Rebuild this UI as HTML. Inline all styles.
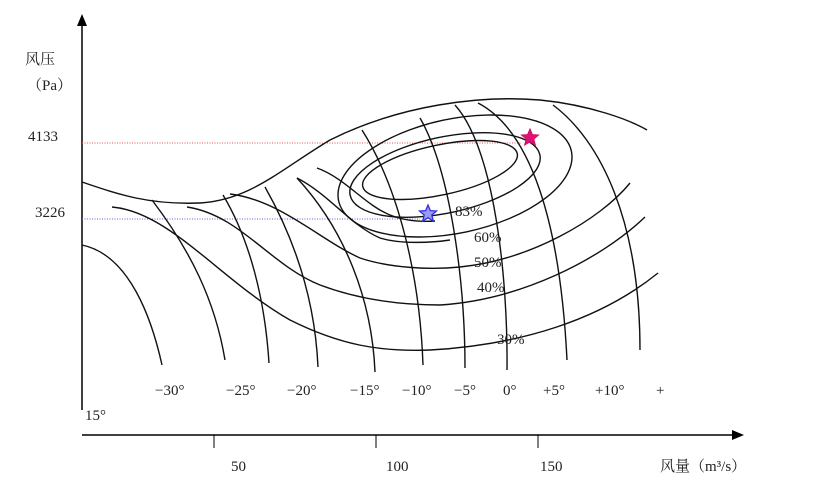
<!DOCTYPE html>
<html><head><meta charset="utf-8"><style>
html,body{margin:0;padding:0;background:#fff;}
svg{display:block;}
text{font-family:"Liberation Serif","Noto Serif CJK SC",serif;font-size:15px;fill:#222;}
</style></head><body>
<svg width="816" height="485" viewBox="0 0 816 485" xmlns="http://www.w3.org/2000/svg">
<rect width="816" height="485" fill="#fff"/>
<line x1="82" y1="410" x2="82" y2="24" stroke="#000" stroke-width="1.5"/>
<polygon points="82,14 77,26 87,26" fill="#000"/>
<line x1="82" y1="435" x2="734" y2="435" stroke="#000" stroke-width="1.5"/>
<polygon points="744,435 732,430 732,440" fill="#000"/>
<line x1="214" y1="435" x2="214" y2="448" stroke="#000"/>
<line x1="376" y1="435" x2="376" y2="448" stroke="#000"/>
<line x1="538" y1="435" x2="538" y2="448" stroke="#000"/>
<text x="231" y="471">50</text>
<text x="386" y="471">100</text>
<text x="540" y="471">150</text>
<text x="660" y="471">风量（m³/s）</text>
<text x="25" y="64">风压</text>
<text x="27" y="90">（Pa）</text>
<text x="28" y="141">4133</text>
<text x="35" y="217">3226</text>
<text x="85" y="420">15°</text>
<line x1="82" y1="143" x2="522" y2="143" stroke="#e05050" stroke-width="1" stroke-dasharray="1,1.5"/>
<line x1="82" y1="219" x2="420" y2="219" stroke="#6060d0" stroke-width="1" stroke-dasharray="1,1.5"/>
<g fill="none" stroke="#111" stroke-width="1.4">
<ellipse cx="440" cy="170" rx="79" ry="25" transform="rotate(-12 440 170)"/>
<ellipse cx="445" cy="175" rx="97" ry="38" transform="rotate(-12 445 175)"/>
<ellipse cx="455" cy="176" rx="119" ry="57" transform="rotate(-12 455 176)"/>
<path d="M82,182 C120,195 150,205 200,203 C250,200 280,170 330,140 C400,105 480,95 540,100 C590,105 630,120 647,130"/>
<path d="M112,207 C170,212 220,280 290,320 C340,345 380,352 430,350 C520,345 600,320 658,273"/>
<path d="M187,207 C240,215 270,265 320,285 C360,300 400,305 440,305 C520,300 600,260 645,217"/>
<path d="M230,194 C280,200 320,240 360,258 C390,268 430,270 460,267 C530,260 600,220 630,183"/>
<path d="M297,178 C330,195 350,225 380,238 C400,244 430,243 450,240"/>
<path d="M317,168 C345,178 365,205 390,215 C405,221 420,222 435,221"/>
<path d="M82,245 C130,255 152,320 162,365"/>
<path d="M152,200 C190,250 215,300 225,360"/>
<path d="M223,195 C250,240 265,300 269,363"/>
<path d="M265,187 C295,240 315,300 318,367"/>
<path d="M297,178 C345,230 372,300 375,372"/>
<path d="M362,130 C400,190 420,280 423,365"/>
<path d="M420,118 C450,170 465,280 465,368"/>
<path d="M455,105 C495,150 508,280 507,370"/>
<path d="M478,103 C530,130 560,220 567,360"/>
<path d="M553,105 C600,140 640,220 640,350"/>
</g>
<polygon points="530,129 532.4,134.6 538.5,135 533.8,139 535.3,145 530,141.8 524.7,145 526.2,139 521.5,135 527.6,134.6" fill="#e0107a" stroke="#d01060"/>
<polygon points="428,205 430.4,210.6 436.5,211 431.8,215 433.3,221 428,217.8 422.7,221 424.2,215 419.5,211 425.6,210.6" fill="#9a9af0" stroke="#3030e0" stroke-width="1.3"/>
<text x="455" y="216">83%</text>
<text x="474" y="242">60%</text>
<text x="474" y="267">50%</text>
<text x="477" y="292">40%</text>
<text x="497" y="344">30%</text>
<text x="155" y="395">−30°</text>
<text x="226" y="395">−25°</text>
<text x="287" y="395">−20°</text>
<text x="350" y="395">−15°</text>
<text x="402" y="395">−10°</text>
<text x="454" y="395">−5°</text>
<text x="503" y="395">0°</text>
<text x="543" y="395">+5°</text>
<text x="595" y="395">+10°</text>
<text x="656" y="395">+</text>
</svg>
</body></html>
